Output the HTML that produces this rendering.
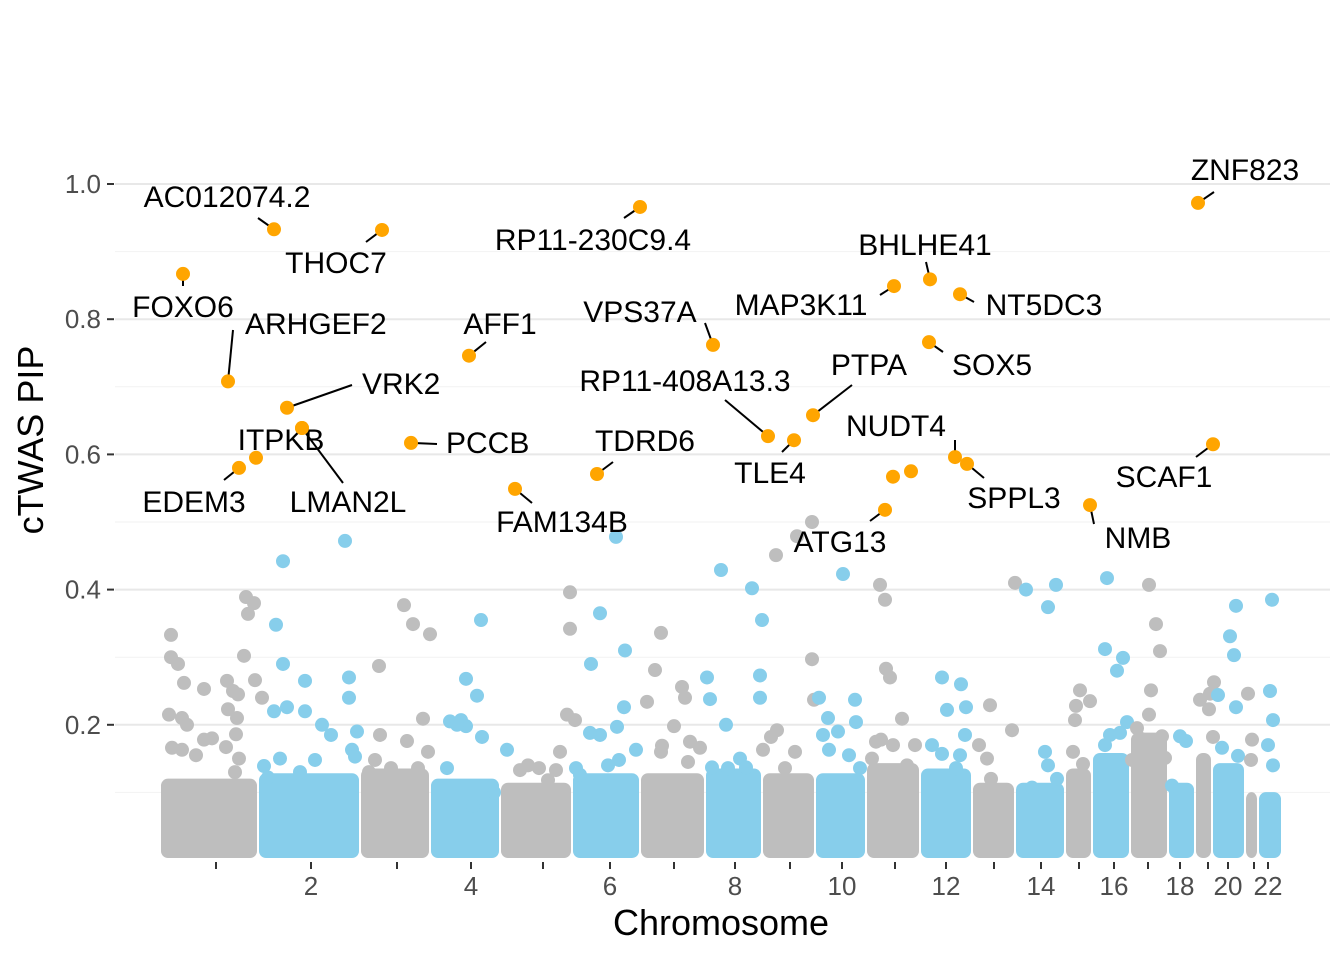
<!DOCTYPE html>
<html><head><meta charset="utf-8"><style>
body{margin:0;background:#fff}
svg{display:block;font-family:"Liberation Sans",Arial,sans-serif}
</style></head><body>
<svg id="chart" width="1344" height="960">
<g id="grid"></g>
<g id="bands"></g>
<g id="pts"></g>
<g id="hl"></g>
<g id="axes"></g>
<text x="721" y="935" font-size="36" text-anchor="middle" fill="#000">Chromosome</text>
<text transform="translate(43,440) rotate(-90)" font-size="36" text-anchor="middle" fill="#000">cTWAS PIP</text>
</svg>
<script>
const chromStarts=[0,98,200,270,340,412,480,545,602,655,706,760,812,855,905,932,970,1008,1035,1052,1085,1098];
const chromTicks=[56,151,237,311,383,450,514,575,630,682,735,786,834,881,919,954,988,1020,1048,1068,1094,1108];
const chromLabels=["","2","","4","","6","","8","","10","","12","","14","","16","","18","","20","","22"];
const yTicks=[0.2,0.4,0.6,0.8,1.0];
const yTickLabels=["0.2","0.4","0.6","0.8","1.0"];
const bandTop=[0.11,0.118,0.125,0.11,0.104,0.118,0.118,0.125,0.118,0.118,0.133,0.125,0.104,0.104,0.125,0.148,0.178,0.104,0.148,0.133,0.09,0.09];
// background points: [chrom, position, value]
const bgPts=[
[1,11,0.333],[1,11,0.30],[1,18,0.29],[1,24,0.262],[1,44,0.253],[1,9,0.215],[1,22,0.21],[1,27,0.2],[1,12,0.166],[1,22,0.163],[1,36,0.155],[1,44,0.178],[1,52,0.18],[1,67,0.265],[1,73,0.25],[1,78,0.245],[1,68,0.223],[1,77,0.21],[1,76,0.186],[1,84,0.302],[1,86,0.389],[1,94,0.38],[1,88,0.364],[1,95,0.266],[1,102,0.24],[1,66,0.167],[1,79,0.15],[1,75,0.13],
[2,123,0.442],[2,116,0.348],[2,123,0.29],[2,145,0.265],[2,114,0.22],[2,127,0.226],[2,145,0.22],[2,162,0.2],[2,171,0.185],[2,189,0.27],[2,189,0.24],[2,197,0.19],[2,185,0.472],[2,104,0.139],[2,120,0.15],[2,140,0.13],[2,192,0.163],[2,195,0.153],[2,155,0.148],[2,108,0.122],
[3,219,0.287],[3,244,0.377],[3,253,0.349],[3,270,0.334],[3,263,0.209],[3,247,0.176],[3,268,0.16],[3,215,0.148],[3,209,0.13],[3,231,0.136],[3,220,0.185],[3,258,0.136],
[4,321,0.355],[4,306,0.268],[4,317,0.243],[4,290,0.205],[4,301,0.207],[4,306,0.198],[4,297,0.2],[4,322,0.182],[4,287,0.136],[4,347,0.163],[4,334,0.1],[4,313,0.08],
[5,410,0.396],[5,410,0.342],[5,407,0.215],[5,415,0.207],[5,400,0.16],[5,368,0.14],[5,379,0.136],[5,360,0.133],[5,396,0.133],[5,388,0.118],
[6,456,0.478],[6,440,0.365],[6,465,0.31],[6,431,0.29],[6,464,0.226],[6,457,0.197],[6,440,0.185],[6,430,0.188],[6,476,0.163],[6,459,0.148],[6,448,0.14],[6,416,0.136],[6,420,0.126],
[7,501,0.336],[7,495,0.281],[7,487,0.234],[7,522,0.256],[7,525,0.24],[7,514,0.198],[7,502,0.169],[7,501,0.16],[7,530,0.175],[7,540,0.166],[7,528,0.145],
[8,561,0.429],[8,592,0.402],[8,602,0.355],[8,547,0.27],[8,550,0.238],[8,566,0.2],[8,600,0.273],[8,600,0.24],[8,580,0.15],[8,586,0.137],[8,552,0.137],[8,568,0.136],
[9,616,0.451],[9,637,0.479],[9,652,0.5],[9,652,0.297],[9,654,0.237],[9,611,0.182],[9,617,0.192],[9,603,0.163],[9,635,0.16],[9,625,0.136],
[10,683,0.423],[10,695,0.237],[10,659,0.24],[10,668,0.21],[10,696,0.204],[10,678,0.19],[10,663,0.185],[10,669,0.163],[10,689,0.155],[10,700,0.136],
[11,720,0.407],[11,725,0.385],[11,726,0.283],[11,730,0.27],[11,742,0.209],[11,721,0.178],[11,733,0.17],[11,716,0.175],[11,755,0.17],[11,747,0.14],[11,712,0.15],
[12,782,0.27],[12,801,0.26],[12,787,0.222],[12,806,0.226],[12,772,0.17],[12,782,0.157],[12,805,0.185],[12,800,0.155],[12,796,0.136],
[13,855,0.41],[13,830,0.229],[13,852,0.192],[13,827,0.15],[13,819,0.17],[13,831,0.12],
[14,866,0.4],[14,896,0.407],[14,888,0.374],[14,885,0.16],[14,888,0.14],[14,872,0.107],[14,897,0.12],
[15,920,0.251],[15,916,0.228],[15,915,0.207],[15,930,0.235],[15,913,0.16],[15,923,0.142],
[16,947,0.417],[16,945,0.312],[16,963,0.299],[16,957,0.28],[16,945,0.17],[16,950,0.185],[16,960,0.188],[16,967,0.204],
[17,989,0.407],[17,996,0.349],[17,1000,0.309],[17,991,0.251],[17,989,0.215],[17,1002,0.183],[17,977,0.195],[17,980,0.18],[17,972,0.148],[17,1005,0.151],
[18,1026,0.176],[18,1020,0.183],[18,1012,0.11],
[19,1054,0.263],[19,1050,0.246],[19,1049,0.223],[19,1053,0.182],[19,1040,0.237],
[20,1076,0.376],[20,1070,0.331],[20,1074,0.303],[20,1058,0.244],[20,1076,0.226],[20,1062,0.166],[20,1078,0.154],
[21,1088,0.246],[21,1092,0.178],[21,1091,0.148],
[22,1112,0.385],[22,1110,0.25],[22,1113,0.207],[22,1108,0.17],[22,1113,0.14]];
// highlighted genes
const hlNames=["FOXO6","AC012074.2","THOC7","ARHGEF2","VRK2","ITPKB","LMAN2L","EDEM3","","AFF1","PCCB","FAM134B","RP11-230C9.4","VPS37A","TDRD6","RP11-408A13.3","TLE4","PTPA","MAP3K11","BHLHE41","NT5DC3","SOX5","NUDT4","SPPL3","","","ATG13","NMB","SCAF1","ZNF823"];
const hlPos=[23,114,222,68,127,142,142,79,96,309,251,355,480,553,437,608,634,653,734,770,800,769,795,807,733,751,725,930,1053,1038];
const hlVal=[0.867,0.933,0.932,0.708,0.669,0.639,0.639,0.58,0.595,0.746,0.617,0.549,0.966,0.762,0.571,0.627,0.621,0.658,0.849,0.859,0.837,0.766,0.596,0.586,0.567,0.575,0.518,0.525,0.615,0.972];
// label layout: [labelX, labelY(baseline), anchor, lineX1, lineY1] in pixels
const hlLayout=[[183,317,"middle",183,286],[227,207,"middle",258,218],[336,273,"middle",366,242],[245,334,"start",233,330],[362,394,"start",352,385],[281,450,"middle",0,0],[348,512,"middle",343,483],[194,512,"middle",224,480],[0,0,"",0,0],[500,334,"middle",486,342],[446,453,"start",437,444],[562,532,"middle",532,503],[593,250,"middle",624,218],[640,322,"middle",705,323],[645,451,"middle",613,462],[685,391,"middle",725,400],[770,483,"middle",782,452],[869,375,"middle",852,385],[801,315,"middle",880,295],[925,255,"middle",926,262],[1044,315,"middle",974,302],[992,375,"middle",943,352],[896,436,"middle",955,440],[1014,508,"middle",984,478],[0,0,"",0,0],[0,0,"",0,0],[840,552,"middle",870,521],[1138,548,"middle",1094,524],[1164,487,"middle",1196,457],[1245,180,"middle",1214,192]];

const NS="http://www.w3.org/2000/svg";
const X0=160, Y0=860, YS=676, PL=115, PR=1330;
const xs=u=>X0+u;
const ys=v=>Y0-v*YS;
function mk(tag,attrs,parent){const e=document.createElementNS(NS,tag);for(const k in attrs)e.setAttribute(k,attrs[k]);parent.appendChild(e);return e;}
const grid=document.getElementById('grid');
[0.1,0.3,0.5,0.7,0.9].forEach(v=>{const l=mk('line',{x1:PL,x2:PR,y1:ys(v),y2:ys(v),stroke:'#f2f2f2','stroke-width':1},grid);

});
yTicks.forEach(v=>{const l=mk('line',{x1:PL,x2:PR,y1:ys(v),y2:ys(v),stroke:'#e8e8e8','stroke-width':2},grid);

});
const colorOf=c=>c%2===1?'#bebebe':'#87ceeb';
const bands=document.getElementById('bands');
chromStarts.forEach((s,i)=>{const e=i<21?chromStarts[i+1]:1122;const t=bandTop[i];
const r=mk('rect',{x:xs(s)+1,y:ys(t)-7,width:e-s-2,height:(Y0-2)-(ys(t)-7),rx:7,fill:colorOf(i+1)},bands);

});
const pts=document.getElementById('pts');
bgPts.forEach(p=>{const c=mk('circle',{cx:xs(p[1]),cy:ys(p[2]),r:7,fill:colorOf(p[0])},pts);

});
const hl=document.getElementById('hl');
hlVal.forEach((v,i)=>{const px=xs(hlPos[i]),py=ys(v);const L=hlLayout[i];
if(hlNames[i]&&L[3]){const ln=mk('line',{x1:L[3],y1:L[4],x2:px,y2:py,stroke:'#000','stroke-width':2},hl);

}
const c=mk('circle',{cx:px,cy:py,r:7,fill:'#ffa500'},hl);


if(hlNames[i]){const t=mk('text',{x:L[0],y:L[1],'text-anchor':L[2],'font-size':30,fill:'#000'},hl);t.textContent=hlNames[i];

}});
const axes=document.getElementById('axes');
yTicks.forEach((v,i)=>{const l=mk('line',{x1:107,x2:114,y1:ys(v),y2:ys(v),stroke:'#333','stroke-width':2},axes);


const t=mk('text',{x:101,y:ys(v)+9,'text-anchor':'end','font-size':26,fill:'#4d4d4d'},axes);t.textContent=yTickLabels[i];

});
chromTicks.forEach((u,i)=>{const l=mk('line',{x1:xs(u),x2:xs(u),y1:862,y2:869,stroke:'#333','stroke-width':2},axes);


if(chromLabels[i]){const t=mk('text',{x:xs(u),y:895,'text-anchor':'middle','font-size':26,fill:'#4d4d4d'},axes);t.textContent=chromLabels[i];

}});
</script>
</body></html>
